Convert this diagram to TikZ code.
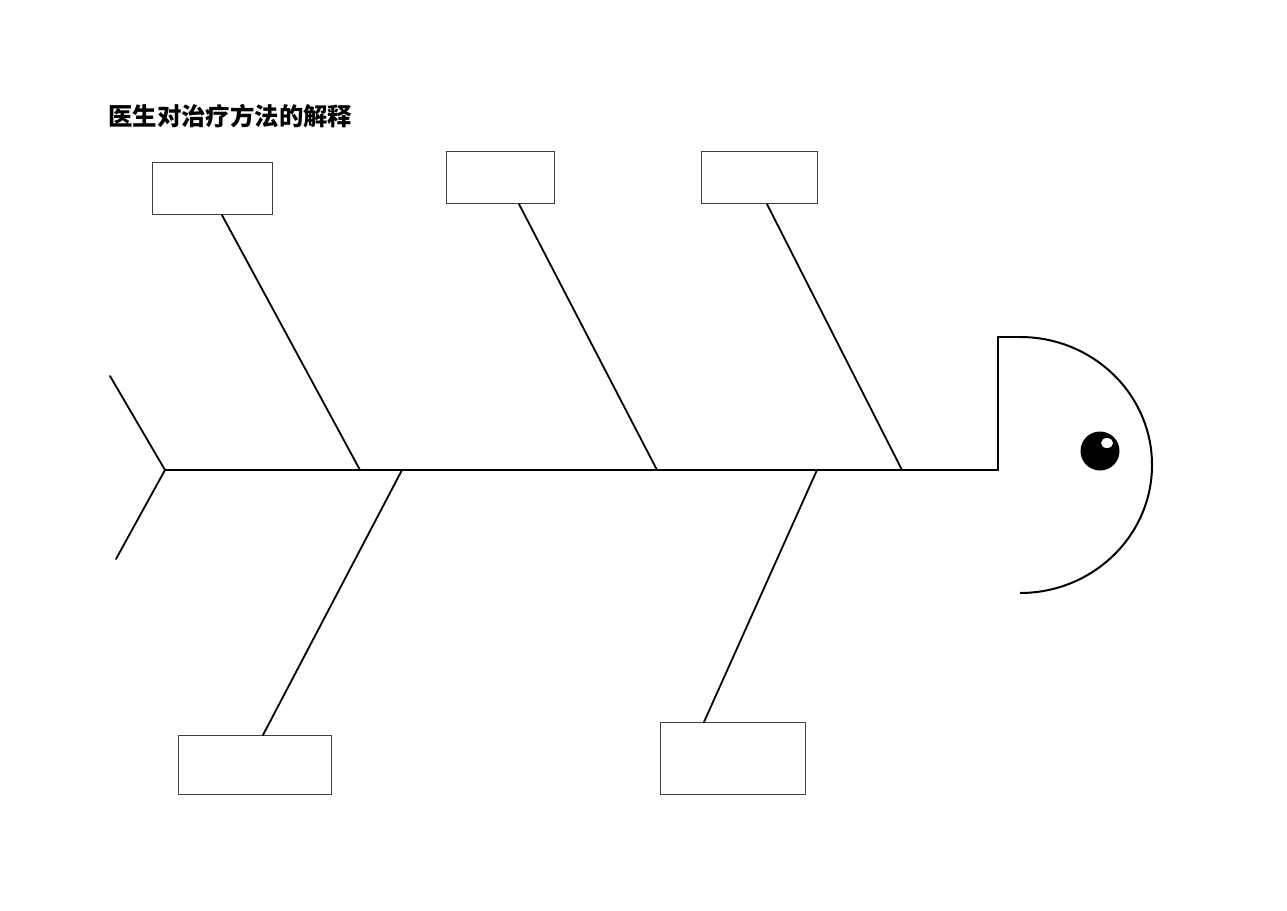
\documentclass[tikz,border=0pt]{standalone}
\usepackage{fontspec}
\newfontfamily\cjk{Noto Sans CJK SC}
\begin{document}
\begin{tikzpicture}[x=1pt,y=-1pt,
  causebox/.style={draw=black!75,line width=1.1pt,fill=white,inner sep=0pt,anchor=north west},
  bone/.style={line width=1.8pt,line cap=round},
  spine/.style={line width=2.2pt}]
\useasboundingbox (0,0) rectangle (1287,910);
% title
\node[anchor=west,inner sep=0pt,font=\cjk\bfseries\fontsize{24.4}{27}\selectfont] (title) at (108,116) {医生对治疗方法的解释};
% boxes
\node[causebox,minimum width=120pt,minimum height=52pt] (b1) at (152,162) {};
\node[causebox,minimum width=108pt,minimum height=52pt] (b2) at (446,151) {};
\node[causebox,minimum width=116pt,minimum height=52pt] (b3) at (701,151) {};
\node[causebox,minimum width=153pt,minimum height=59pt] (b4) at (178,735) {};
\node[causebox,minimum width=145pt,minimum height=72pt] (b5) at (660,722) {};
% spine coordinates
\coordinate (tail) at (165,470);
\coordinate (tailtop) at (110,376);
\coordinate (tailbot) at (116,559);
\coordinate (j1) at (360,470);
\coordinate (j2) at (657,470);
\coordinate (j3) at (902,470);
\coordinate (k1) at (402,470);
\coordinate (k2) at (817,470);
\coordinate (neck) at (998,470);
\coordinate (neckTop) at (998,337);
\coordinate (headStart) at (1020,337);
% tail and spine
\draw[bone] (tailtop) -- (tail) -- (tailbot);
\draw[spine] (tail) -- (neck) -- (neckTop) -- (headStart);
\draw[line width=2pt] (headStart) arc[start angle=-90,end angle=90,x radius=132,y radius=128];
% bones
\draw[bone] (b1.south west) ++(70,0) coordinate (s1) -- (j1);
\draw[bone] (b2.south west) ++(73,0) coordinate (s2) -- (j2);
\draw[bone] (b3.south west) ++(66,0) coordinate (s3) -- (j3);
\draw[bone] (b4.north west) ++(85,0) coordinate (s4) -- (k1);
\draw[bone] (b5.north west) ++(44,0) coordinate (s5) -- (k2);
% eye
\fill[black] (1100,451) circle[radius=19.5];
\fill[white] (1107,443) ellipse[x radius=6,y radius=5];
\end{tikzpicture}
\end{document}
